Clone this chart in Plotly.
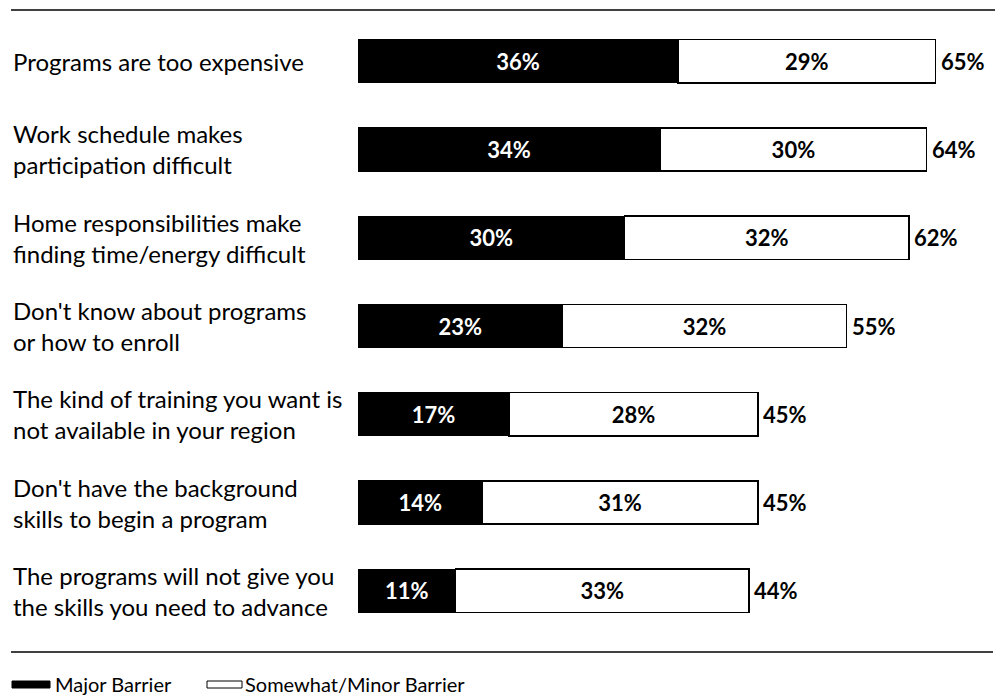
import plotly.graph_objects as go

# Survey data: share of respondents naming each barrier to training
barriers = [
    "Programs are too expensive",
    "Work schedule makes<br>participation difficult",
    "Home responsibilities make<br>finding time/energy difficult",
    "Don't know about programs<br>or how to enroll",
    "The kind of training you want is<br>not available in your region",
    "Don't have the background<br>skills to begin a program",
    "The programs will not give you<br>the skills you need to advance",
]
major = [36, 34, 30, 23, 17, 14, 11]
minor = [29, 30, 32, 32, 28, 31, 33]
totals = [65, 64, 62, 55, 45, 45, 44]
series_names = ["Major Barrier", "Somewhat/Minor Barrier"]

FONT = "Lato"
W, H = 995, 695
ML, MR, MT, MB = 358, 15, 17, 60
PW = W - ML - MR
PH = H - MT - MB

rows = list(range(len(barriers)))

fig = go.Figure()
fig.add_trace(go.Bar(
    y=rows, x=major, orientation="h", name=series_names[0],
    marker=dict(color="#000000", line=dict(color="#000000", width=1)),
    width=0.49,
    text=[f"{v}%" for v in major], textposition="inside",
    insidetextanchor="middle",
    textfont=dict(family=FONT, size=22, color="white", weight="bold"),
    showlegend=False,
))
fig.add_trace(go.Bar(
    y=rows, x=minor, orientation="h", name=series_names[1],
    marker=dict(color="#ffffff", line=dict(color="#000000", width=1.5)),
    width=0.49,
    text=[f"{v}%" for v in minor], textposition="inside",
    insidetextanchor="middle",
    textfont=dict(family=FONT, size=22, color="black", weight="bold"),
    showlegend=False,
))


def px_x(p):
    return (p - ML) / PW


def px_y(p):
    return 1 - (p - MT) / PH


annotations = []
for i, lab in enumerate(barriers):
    annotations.append(dict(
        x=px_x(11), xref="paper", y=i, yref="y",
        text=lab, showarrow=False, xanchor="left", yanchor="middle",
        align="left", font=dict(family=FONT, size=24, color="black"),
    ))

# totals printed just past the end of each stacked bar
for i, t in enumerate(totals):
    annotations.append(dict(
        x=t, xref="x", y=i, yref="y", text=f"{t}%",
        showarrow=False, xanchor="left", yanchor="middle", xshift=3,
        font=dict(family=FONT, size=22, color="black", weight="bold"),
    ))

# rules above and below the bars, plus a legend with wide swatches
shapes = [
    dict(type="line", xref="paper", yref="paper", x0=px_x(11), x1=px_x(995),
         y0=px_y(10), y1=px_y(10), line=dict(color="black", width=1.5)),
    dict(type="line", xref="paper", yref="paper", x0=px_x(11), x1=px_x(993),
         y0=px_y(652), y1=px_y(652), line=dict(color="black", width=1.5)),
    dict(type="rect", xref="paper", yref="paper", x0=px_x(12), x1=px_x(50),
         y0=px_y(688), y1=px_y(681), fillcolor="black",
         line=dict(color="black", width=1)),
    dict(type="rect", xref="paper", yref="paper", x0=px_x(207), x1=px_x(242),
         y0=px_y(688), y1=px_y(681), fillcolor="white",
         line=dict(color="black", width=1)),
]
annotations.append(dict(
    x=px_x(53), xref="paper", y=px_y(684), yref="paper", text=series_names[0],
    showarrow=False, xanchor="left", yanchor="middle",
    font=dict(family=FONT, size=20, color="black")))
annotations.append(dict(
    x=px_x(243), xref="paper", y=px_y(684), yref="paper", text=series_names[1],
    showarrow=False, xanchor="left", yanchor="middle",
    font=dict(family=FONT, size=20, color="black")))

fig.update_layout(
    width=W, height=H,
    margin=dict(l=ML, r=MR, t=MT, b=MB),
    barmode="stack",
    plot_bgcolor="white", paper_bgcolor="white",
    xaxis=dict(range=[0, 70], visible=False, fixedrange=True),
    yaxis=dict(range=[6.5, -0.5], visible=False, fixedrange=True),
    shapes=shapes, annotations=annotations,
    uniformtext=dict(mode=False),
)

fig.write_html("out.html")
